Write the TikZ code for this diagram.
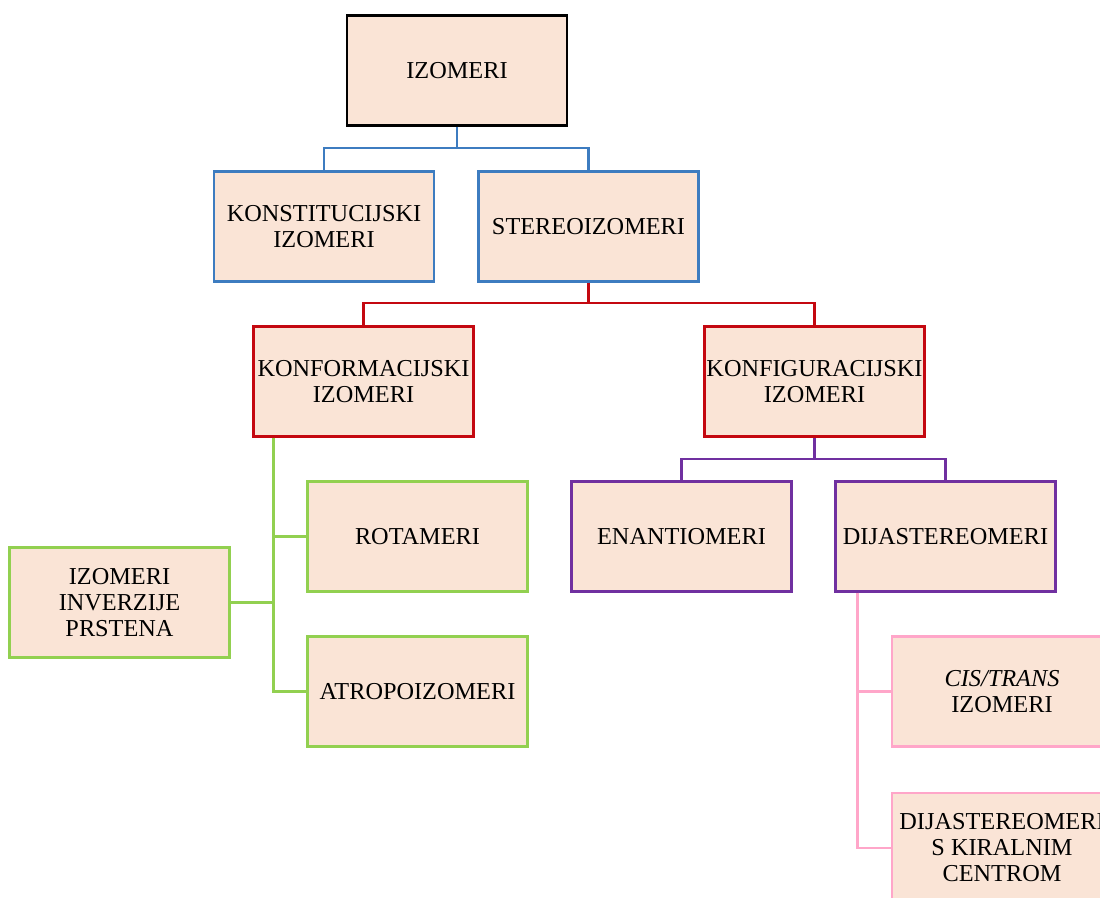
\documentclass[tikz,border=0pt]{standalone}
\usepackage{fontspec}
\setmainfont{Liberation Serif}
\tikzset{
	izbox/.style={draw=#1, fill=color0, line width=2.2pt, minimum width=220pt, minimum height=110pt, inner sep=0pt, align=center, text=black, font=\fontsize{24.3}{26}\selectfont},
	izlink/.style={draw=#1, line width=2.2pt}
}

\begin{document}
\begin{tikzpicture}[x=1pt,y=-1pt]
	\useasboundingbox (0,0) rectangle (1100,897);
	\clip (0,0) rectangle (1100,897);
\definecolor{color0}{RGB}{250,228,214}
\definecolor{color1}{RGB}{61,124,192}
\definecolor{color2}{RGB}{196,8,16}
\definecolor{color3}{RGB}{112,48,160}
\definecolor{color4}{RGB}{146,208,80}
\definecolor{color5}{RGB}{255,166,201}
	\node[izbox=black] (izomeri) at (457,70.5) {IZOMERI};
	\node[izbox=color1] (konst) at (324,226.5) {KONSTITUCIJSKI\\IZOMERI};
	\node[izbox=color1] (stereo) at (588.5,226.5) {STEREOIZOMERI};
	\coordinate (b1) at (457,148);
	\draw[izlink=color1] (izomeri.south) -- (b1);
	\draw[izlink=color1] (konst.north) |- (b1) -| (stereo.north);
	\node[izbox=color2] (konform) at (363.5,381.5) {KONFORMACIJSKI\\IZOMERI};
	\node[izbox=color2] (konfig) at (814.5,381.5) {KONFIGURACIJSKI\\IZOMERI};
	\coordinate (r1) at (588.5,303);
	\draw[izlink=color2] (stereo.south) -- (r1);
	\draw[izlink=color2] (konform.north) |- (r1) -| (konfig.north);
	\node[izbox=color3] (enant) at (681.5,536.5) {ENANTIOMERI};
	\node[izbox=color3] (dijast) at (945.5,536.5) {DIJASTEREOMERI};
	\coordinate (p1) at (814.5,459);
	\draw[izlink=color3] (konfig.south) -- (p1);
	\draw[izlink=color3] (enant.north) |- (p1) -| (dijast.north);
	\node[izbox=color4] (rotam) at (417.5,536.5) {ROTAMERI};
	\node[izbox=color4] (atrop) at (417.5,691.5) {ATROPOIZOMERI};
	\node[izbox=color4] (inverz) at (119.5,602.5) {IZOMERI\\INVERZIJE\\PRSTENA};
	\coordinate (g1) at ([xshift=21pt]konform.south west);
	\draw[izlink=color4] (g1) |- (atrop.west);
	\draw[izlink=color4] (g1 |- rotam.west) -- (rotam.west);
	\draw[izlink=color4] (inverz.east) -- (inverz.east -| g1);
	\node[izbox=color5] (cistrans) at (1002,691.5) {\textit{CIS/TRANS}\\IZOMERI};
	\node[izbox=color5] (kiral) at (1002,848) {DIJASTEREOMERI\\S KIRALNIM\\CENTROM};
	\coordinate (k1) at ([xshift=23pt]dijast.south west);
	\draw[izlink=color5] (k1) |- (kiral.west);
	\draw[izlink=color5] (k1 |- cistrans.west) -- (cistrans.west);
\end{tikzpicture}
\end{document}
